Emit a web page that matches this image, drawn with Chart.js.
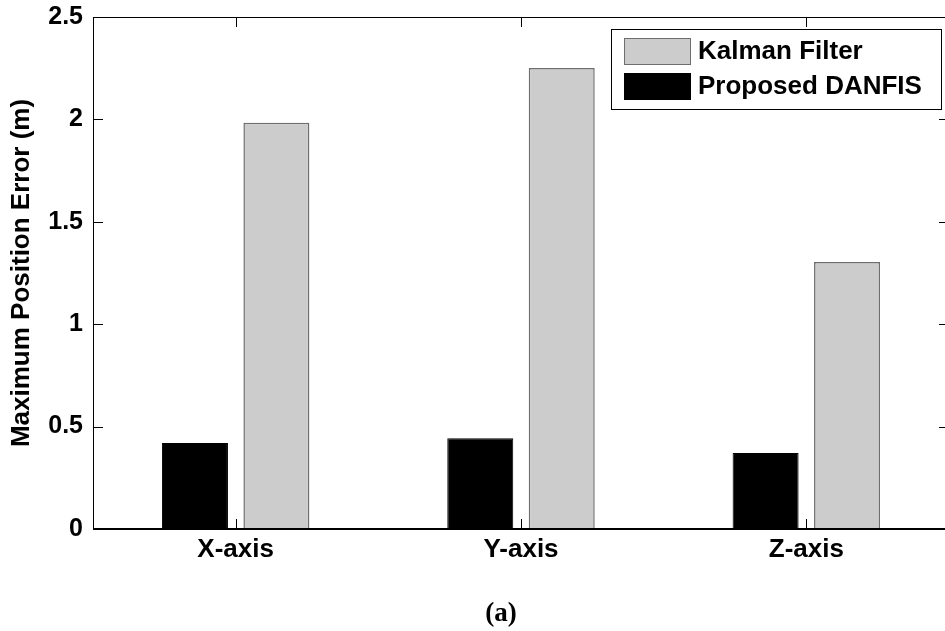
<!DOCTYPE html>
<html>
<head>
<meta charset="utf-8">
<script src="https://cdn.jsdelivr.net/npm/chart.js@4/dist/chart.umd.min.js"></script>
<style>
  html, body { margin: 0; padding: 0; background: #fff; overflow: hidden; }
  #wrap { width: 945px; height: 631px; overflow: hidden; position: relative; }
  canvas { display: block; }
</style>
</head>
<body>
<div id="wrap"><canvas id="c" width="960" height="631"></canvas></div>
<script>
const categories = ["X-axis", "Y-axis", "Z-axis"];
const danfisValues = [0.42, 0.443, 0.371];
const kalmanValues = [1.984, 2.251, 1.304];
const yTickValues = [0, 0.5, 1, 1.5, 2, 2.5];
const seriesNames = ["Proposed DANFIS", "Kalman Filter"];
const captionText = "(a)";
const yTitle = "Maximum Position Error (m)";

const SANS = "'Liberation Sans', Arial, sans-serif";

const framePlugin = {
  id: 'frame',
  afterDraw(chart) {
    const ctx = chart.ctx;
    const a = chart.chartArea;
    const xs = chart.scales.x, ys = chart.scales.y;
    ctx.save();
    ctx.strokeStyle = '#000';
    ctx.lineWidth = 1;
    ctx.beginPath();
    ctx.moveTo(a.left + 0.5, a.top + 0.5);
    ctx.lineTo(a.right + 0.5, a.top + 0.5);
    ctx.moveTo(a.left + 0.5, a.top);
    ctx.lineTo(a.left + 0.5, a.bottom);
    ctx.moveTo(a.right + 0.5, a.top);
    ctx.lineTo(a.right + 0.5, a.bottom);
    ctx.stroke();
    ctx.lineWidth = 2;
    ctx.beginPath();
    ctx.moveTo(a.left, a.bottom);
    ctx.lineTo(a.right, a.bottom);
    ctx.stroke();
    ctx.lineWidth = 1;
    const tl = 10;
    ctx.beginPath();
    for (let i = 0; i < categories.length; i++) {
      const px = Math.round(xs.getPixelForValue(i)) + 0.5;
      ctx.moveTo(px, a.bottom);
      ctx.lineTo(px, a.bottom - tl);
      ctx.moveTo(px, a.top);
      ctx.lineTo(px, a.top + tl);
    }
    yTickValues.forEach(v => {
      const py = Math.round(ys.getPixelForValue(v)) + 0.5;
      ctx.moveTo(a.left, py);
      ctx.lineTo(a.left + tl, py);
      ctx.moveTo(a.right, py);
      ctx.lineTo(a.right - tl, py);
    });
    ctx.stroke();

    const ds = chart.data.datasets;
    const order = [1, 0];
    const bx = 611, by = 29, bw = 330, bh = 80;
    ctx.fillStyle = '#fff';
    ctx.fillRect(bx, by, bw, bh);
    ctx.strokeStyle = '#000';
    ctx.lineWidth = 1;
    ctx.strokeRect(bx + 0.5, by + 0.5, bw, bh);
    ctx.font = "bold 26px " + SANS;
    ctx.textAlign = 'left';
    ctx.textBaseline = 'middle';
    order.forEach((di, k) => {
      const d = ds[di];
      const sy = 38 + k * 35;
      ctx.fillStyle = d.backgroundColor;
      ctx.fillRect(624, sy, 67, 27);
      ctx.strokeStyle = d.borderColor;
      ctx.lineWidth = 1;
      ctx.strokeRect(624.5, sy + 0.5, 66, 26);
      ctx.fillStyle = '#000';
      ctx.fillText(d.label, 698, sy + 14);
    });

    ctx.font = "bold 27px 'Liberation Serif', 'Times New Roman', serif";
    ctx.textAlign = 'center';
    ctx.textBaseline = 'middle';
    ctx.fillStyle = '#000';
    ctx.fillText(captionText, 501, 614);
    ctx.restore();
  }
};

new Chart(document.getElementById('c'), {
  type: 'bar',
  data: {
    labels: categories,
    datasets: [
      {
        label: seriesNames[0],
        data: danfisValues,
        backgroundColor: '#000000',
        borderColor: '#000000',
        borderWidth: 1
      },
      {
        label: seriesNames[1],
        data: kalmanValues,
        backgroundColor: '#cccccc',
        borderColor: '#6e6e6e',
        borderWidth: 1.5
      }
    ]
  },
  options: {
    responsive: false,
    animation: false,
    devicePixelRatio: 1,
    categoryPercentage: 0.571,
    barPercentage: 0.81,
    layout: { padding: { left: 0, top: 17, right: 11, bottom: 0 } },
    plugins: {
      legend: { display: false },
      tooltip: { enabled: false }
    },
    scales: {
      x: {
        grid: { display: false, drawTicks: false },
        border: { display: false },
        ticks: {
          color: '#000',
          font: { family: SANS, size: 26, weight: 'bold' },
          padding: 5,
          maxRotation: 0
        },
        afterFit(scale) { scale.height = 102; scale.paddingLeft = 0; scale.paddingRight = 0; }
      },
      y: {
        min: 0,
        max: 2.5,
        grid: { display: false, drawTicks: false },
        border: { display: false },
        afterBuildTicks(scale) { scale.ticks = yTickValues.map(v => ({ value: v })); },
        ticks: {
          color: '#000',
          font: { family: SANS, size: 25, weight: 'bold' },
          padding: 10,
          callback: v => String(v)
        },
        title: {
          display: true,
          text: yTitle,
          color: '#000',
          font: { family: SANS, size: 26, weight: 'bold' },
          padding: { top: 6, bottom: 0 }
        },
        afterFit(scale) { scale.width = 93; scale.paddingTop = 0; scale.paddingBottom = 0; }
      }
    }
  },
  plugins: [framePlugin]
});
</script>
</body>
</html>
